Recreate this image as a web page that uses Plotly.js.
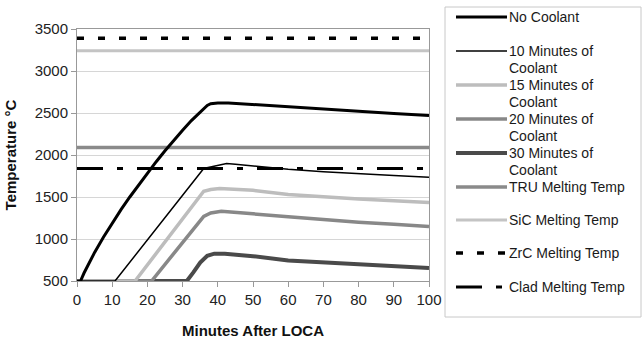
<!DOCTYPE html>
<html>
<head>
<meta charset="utf-8">
<script src="https://cdn.plot.ly/plotly-3.0.1.min.js"></script>
<style>html,body{margin:0;padding:0;background:#fff;}#chart{width:642px;height:345px;}</style>
</head>
<body>
<div id="chart"></div>
<script>
// ---- data ----
var noCoolantMin = [0, 1, 2, 3, 5, 7.5, 10, 12.5, 15, 17.5, 20, 22.5, 25, 27.5, 30, 32.5, 35, 37, 38, 40, 43, 50, 60, 70, 80, 90, 100];
var noCoolantT   = [500, 500, 595, 680, 840, 1020, 1190, 1350, 1500, 1645, 1785, 1920, 2050, 2175, 2295, 2410, 2515, 2590, 2610, 2620, 2620, 2600, 2570, 2545, 2520, 2495, 2470];

var tenMin = [0, 10.8, 36, 38.5, 40, 42.5, 45, 50, 60, 70, 80, 90, 100];
var tenT   = [500, 500, 1840, 1860, 1880, 1900, 1890, 1870, 1830, 1800, 1775, 1755, 1735];

var fifteenMin = [0, 16.5, 36, 38, 40.5, 45, 50, 60, 70, 80, 90, 100];
var fifteenT   = [500, 500, 1568, 1590, 1600, 1595, 1580, 1530, 1500, 1475, 1455, 1435];

var twentyMin = [0, 21.2, 36, 38, 41, 45, 50, 60, 70, 80, 90, 100];
var twentyT   = [500, 500, 1270, 1310, 1330, 1320, 1300, 1265, 1230, 1200, 1175, 1150];

var thirtyMin = [0, 31.2, 33, 35, 37, 39, 42, 45, 50, 60, 70, 80, 90, 100];
var thirtyT   = [500, 500, 600, 720, 800, 825, 825, 815, 795, 745, 720, 695, 675, 655];

var meltNames = ["TRU Melting Temp", "SiC Melting Temp", "ZrC Melting Temp", "Clad Melting Temp"];
var meltTemps = [2090, 3240, 3390, 1840];
var meltSpan  = [0, 100];

var seriesNames = ["No Coolant", "10 Minutes of Coolant", "15 Minutes of Coolant", "20 Minutes of Coolant", "30 Minutes of Coolant"];
var legendLabels = [["No Coolant"], ["10 Minutes of", "Coolant"], ["15 Minutes of", "Coolant"], ["20 Minutes of", "Coolant"], ["30 Minutes of", "Coolant"],
                    ["TRU Melting Temp"], ["SiC Melting Temp"], ["ZrC Melting Temp"], ["Clad Melting Temp"]];
var xTickVals = [0, 10, 20, 30, 40, 50, 60, 70, 80, 90, 100];
var yTickVals = [500, 1000, 1500, 2000, 2500, 3000, 3500];

// ---- styles ----
var styles = [
  {color: "#000000", width: 3},
  {color: "#000000", width: 1.5},
  {color: "#bdbdbd", width: 3.5},
  {color: "#888888", width: 3.5},
  {color: "#4a4a4a", width: 4},
  {color: "#8a8a8a", width: 3.5},
  {color: "#c4c4c4", width: 3},
  {color: "#000000", width: 3.5, dash: "7px,14px"},
  {color: "#000000", width: 3, dash: "26px,14px,6px,14px"}
];

var curveX = [noCoolantMin, tenMin, fifteenMin, twentyMin, thirtyMin];
var curveY = [noCoolantT, tenT, fifteenT, twentyT, thirtyT];

var traces = [];
var meltOrder = [1, 2, 0, 3];
meltOrder.forEach(function (i) {
  var s = styles[5 + i];
  traces.push({x: meltSpan, y: [meltTemps[i], meltTemps[i]], mode: "lines", name: meltNames[i],
    line: {color: s.color, width: s.width, dash: s.dash || "solid"}, showlegend: false, hoverinfo: "skip"});
});
for (var i = curveX.length - 1; i >= 0; i--) {
  var s = styles[i];
  traces.push({x: curveX[i], y: curveY[i], mode: "lines", name: seriesNames[i],
    line: {color: s.color, width: s.width}, showlegend: false});
}

// ---- legend drawn by hand (pixel -> paper helpers) ----
var L = 77, R = 429, T = 29, B = 281;
function PX(px) { return (px - L) / (R - L); }
function PY(py) { return (B - py) / (B - T); }

var shapes = [{type: "rect", xref: "paper", yref: "paper", x0: PX(445), x1: PX(641), y0: PY(7), y1: PY(317),
  line: {color: "#c8c8c8", width: 1}, fillcolor: "rgba(0,0,0,0)"}];
var annotations = [];
var rowY = [17, 51, 85, 119, 153, 187, 220, 253, 287];
legendLabels.forEach(function (lines, k) {
  var s = styles[k];
  shapes.push({type: "line", xref: "paper", yref: "paper", x0: PX(456), x1: PX(507), y0: PY(rowY[k]), y1: PY(rowY[k]),
    line: {color: s.color, width: s.width, dash: s.dash || "solid"}});
  lines.forEach(function (t, j) {
    annotations.push({xref: "paper", yref: "paper", x: PX(508), y: PY(rowY[k] + j * 17), xanchor: "left", yanchor: "middle",
      text: t, showarrow: false, borderpad: 0, font: {family: "Liberation Sans, Arial, sans-serif", size: 14, color: "#1a1a1a"}});
  });
});

var layout = {
  width: 642, height: 345,
  margin: {l: L, r: 642 - R, t: T, b: 345 - B},
  paper_bgcolor: "#ffffff", plot_bgcolor: "#ffffff",
  font: {family: "Liberation Sans, Arial, sans-serif", size: 15, color: "#222"},
  xaxis: {range: [0, 100], tickvals: xTickVals, ticks: "outside", ticklen: 5, tickcolor: "#999",
    showline: true, linecolor: "#999", mirror: true, showgrid: false, zeroline: false,
    tickfont: {size: 15, color: "#222"},
    title: {text: "<b>Minutes After LOCA</b>", font: {size: 15, color: "#111"}, standoff: 18}},
  yaxis: {range: [500, 3500], tickvals: yTickVals, ticks: "outside", ticklen: 5, tickcolor: "#999",
    showline: true, linecolor: "#999", mirror: true, showgrid: true, gridcolor: "#d6d6d6", zeroline: false,
    tickfont: {size: 15, color: "#222"},
    title: {text: "<b>Temperature °C</b>", font: {size: 15, color: "#111"}, standoff: 14}},
  shapes: shapes,
  annotations: annotations,
  showlegend: false
};

Plotly.newPlot("chart", traces, layout, {staticPlot: true, displayModeBar: false});
</script>
</body>
</html>
